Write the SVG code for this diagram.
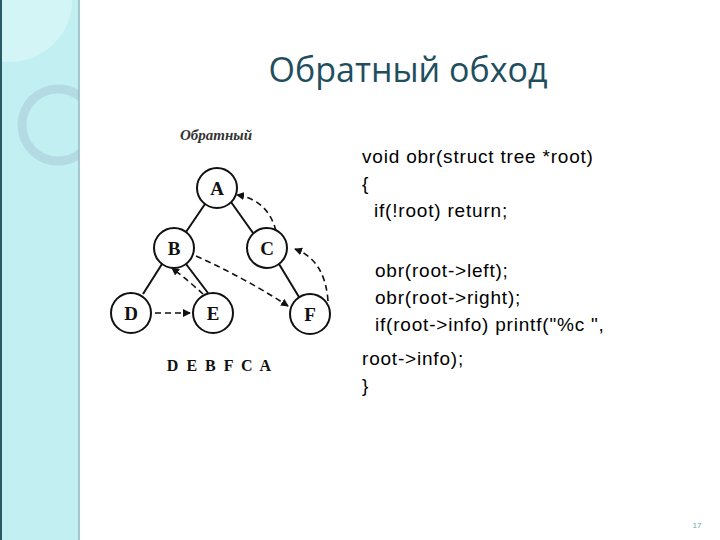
<svg xmlns="http://www.w3.org/2000/svg" width="720" height="540" viewBox="0 0 720 540">
<style>
.n circle{fill:#fff;stroke:#111;stroke-width:2}
.n text{font-family:"Liberation Serif",serif;font-weight:bold;font-size:19px;text-anchor:middle;fill:#111}
.e{stroke:#111;stroke-width:2;fill:none}
.d{stroke:#111;stroke-width:1.6;fill:none;stroke-dasharray:6,4;marker-end:url(#ah)}
.code{font-family:"Liberation Sans",sans-serif;font-size:19px;letter-spacing:0.8px;fill:#000}
</style>
<defs>
<marker id="ah" markerWidth="8" markerHeight="8" refX="7" refY="4" orient="auto" markerUnits="userSpaceOnUse"><path d="M0,0 L8,4 L0,8 Z" fill="#111"/></marker>
<clipPath id="sb"><rect x="0" y="0" width="79" height="540"/></clipPath>
</defs>
<rect width="720" height="540" fill="#fff"/>
<g id="sidebar">
<rect x="0" y="0" width="79" height="540" fill="#c2f0f2"/>
<g clip-path="url(#sb)">
<circle cx="58" cy="125" r="36" fill="none" stroke="#b0d6e0" stroke-width="9" opacity="0.8"/>
<circle cx="10" cy="0" r="62" fill="#e0f8f8" opacity="0.6"/>
</g>
<line x1="1" y1="0" x2="1" y2="540" stroke="#2a5a66" stroke-width="2"/>
<line x1="79" y1="0" x2="79" y2="540" stroke="#8fb8c0" stroke-width="1.5"/>
</g>
<text x="408" y="82" font-family="Open Sans,sans-serif" font-size="34" fill="#1f4e5f" text-anchor="middle">Обратный обход</text>
<text x="216" y="140" font-family="Liberation Serif,serif" font-style="italic" font-weight="bold" font-size="15" fill="#333" text-anchor="middle">Обратный</text>
<g id="connectors">
<line class="e" x1="205" y1="204" x2="186" y2="232"/>
<line class="e" x1="231" y1="202" x2="253" y2="233"/>
<line class="e" x1="162" y1="264" x2="143" y2="294"/>
<line class="e" x1="186" y1="264" x2="208" y2="293"/>
<line class="e" x1="279" y1="264" x2="299" y2="297"/>
<line class="d" x1="155" y1="313" x2="190" y2="313"/>
<path class="d" d="M203,294 Q190,282 172,268"/>
<path class="d" d="M196,256 Q245,278 288,306"/>
<path class="d" d="M328,301 Q325,260 295,249"/>
<path class="d" d="M276,231 Q268,200 237,195"/>
</g>
<g id="A" class="n"><circle cx="217" cy="188" r="20"/><text x="217" y="195">A</text></g>
<g id="B" class="n"><circle cx="174" cy="248" r="20"/><text x="174" y="255">B</text></g>
<g id="C" class="n"><circle cx="267" cy="248" r="20"/><text x="267" y="255">C</text></g>
<g id="D" class="n"><circle cx="131" cy="313" r="20"/><text x="131" y="320">D</text></g>
<g id="E" class="n"><circle cx="213" cy="313" r="20"/><text x="213" y="320">E</text></g>
<g id="F" class="n"><circle cx="310" cy="314" r="20"/><text x="310" y="321">F</text></g>
<text x="220" y="371" font-family="Liberation Serif,serif" font-weight="bold" font-size="16" fill="#111" text-anchor="middle" letter-spacing="2">D E B F C A</text>
<g class="code">
<text x="362" y="163">void obr(struct tree *root)</text>
<text x="362" y="190">{</text>
<text x="374" y="217">if(!root) return;</text>
<text x="375" y="277">obr(root-&gt;left);</text>
<text x="375" y="304">obr(root-&gt;right);</text>
<text x="375" y="331">if(root-&gt;info) printf("%c ",</text>
<text x="362" y="365">root-&gt;info);</text>
<text x="362" y="392">}</text>
</g>
<text x="697" y="528" font-family="Liberation Sans,sans-serif" font-size="8" fill="#6aa" text-anchor="middle">17</text>
</svg>
